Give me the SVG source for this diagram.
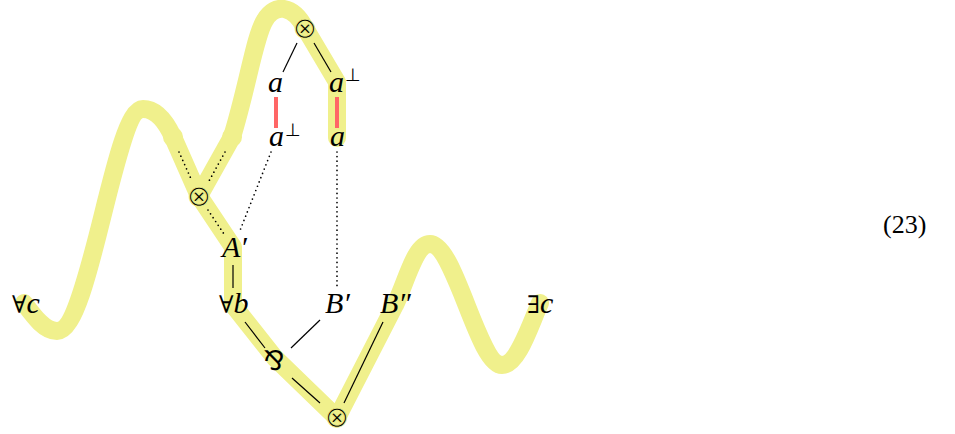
<svg xmlns="http://www.w3.org/2000/svg" width="955" height="434" viewBox="0 0 955 434">
<style>
.hl{fill:none;stroke:#f0f08c;stroke-width:18;stroke-linecap:round;stroke-linejoin:round}
.ln{stroke:#000;stroke-width:1.2;fill:none}
.dt{stroke:#000;stroke-width:1.7;stroke-dasharray:0 4.6;stroke-linecap:round;fill:none}
.red{stroke:#ff6666;stroke-width:4}
.m{font-family:"Liberation Serif","DejaVu Serif",serif;font-size:30px;font-style:italic;fill:#000}
.up{font-style:normal;font-family:"DejaVu Serif",serif;font-size:24px}
.sup{font-family:"DejaVu Sans",sans-serif;font-style:normal;font-size:18px}
.op{font-family:"DejaVu Sans",sans-serif;font-size:29px;text-anchor:middle;fill:#000}
.tn{stroke:#f0f08c;stroke-width:0.9}
.eq{font-family:"Liberation Serif",serif;font-size:26px;fill:#000}
</style>
<g id="highlights">
<path class="hl" d="M24,303 C35,318 45,331 57,331 C90,331 114,109 143,109 C157,109 166,122 173,137"/>
<circle cx="173" cy="137" r="10" fill="#f0f08c"/>
<path class="hl" d="M173,137 L199,196 L233,247 L233,305 L275,358 L337,418 L395,305 C407,280 415,244 430,244 C455,244 478,365 502,365 C518,365 530,325 540,303"/>
<path class="hl" d="M232,137 L199,196"/>
<circle cx="232" cy="137" r="10" fill="#f0f08c"/>
<path class="hl" d="M232,137 C248,85 255,35 265,20 C275,3 293,5 305,28 L337,82 L337,138"/>
</g>
<g id="connectors">
<line class="ln" x1="297" y1="43" x2="283" y2="72"/>
<line class="ln" x1="314" y1="43" x2="331" y2="72"/>
<line class="red" x1="276" y1="97" x2="276" y2="128"/>
<line class="red" x1="337" y1="97" x2="337" y2="128"/>
<line class="dt" x1="271" y1="152" x2="239" y2="233"/>
<line class="dt" x1="337" y1="152" x2="337" y2="289"/>
<line class="dt" x1="179" y1="152" x2="192" y2="181"/>
<line class="dt" x1="225" y1="152" x2="209" y2="181"/>
<line class="dt" x1="208" y1="210" x2="224" y2="234"/>
<line class="ln" x1="233" y1="265" x2="233" y2="288"/>
<line class="ln" x1="245" y1="322" x2="265" y2="348"/>
<line class="ln" x1="320" y1="320" x2="291" y2="348"/>
<line class="ln" x1="292" y1="378" x2="320" y2="403"/>
<line class="ln" x1="383" y1="322" x2="344" y2="403"/>
</g>
<g id="tensor-top"><text class="op tn" x="305" y="38">⊗</text></g>
<g id="a-top"><text class="m" x="268" y="92">a</text></g>
<g id="aperp-top"><text class="m" x="329" y="92">a<tspan class="sup" x="345" y="81">⊥</tspan></text></g>
<g id="aperp-low"><text class="m" x="269" y="146">a<tspan class="sup" x="285" y="136">⊥</tspan></text></g>
<g id="a-low"><text class="m" x="330" y="146">a</text></g>
<g id="tensor-mid"><text class="op tn" x="199" y="206">⊗</text></g>
<g id="Aprime"><text class="m" x="222" y="257">A′</text></g>
<g id="forall-c"><text class="m" x="12" y="313"><tspan class="up">∀</tspan>c</text></g>
<g id="forall-b"><text class="m" x="219" y="313"><tspan class="up">∀</tspan>b</text></g>
<g id="Bprime"><text class="m" x="325" y="313">B′</text></g>
<g id="Bdprime"><text class="m" x="380" y="313">B″</text></g>
<g id="exists-c"><text class="m" x="527" y="313"><tspan class="up">∃</tspan>c</text></g>
<g id="par"><text class="op" x="274" y="370" style="font-size:27px">⅋</text></g>
<g id="tensor-bot"><text class="op tn" x="337" y="427">⊗</text></g>
<g id="eqnum"><text class="eq" x="883" y="233">(23)</text></g>
</svg>
